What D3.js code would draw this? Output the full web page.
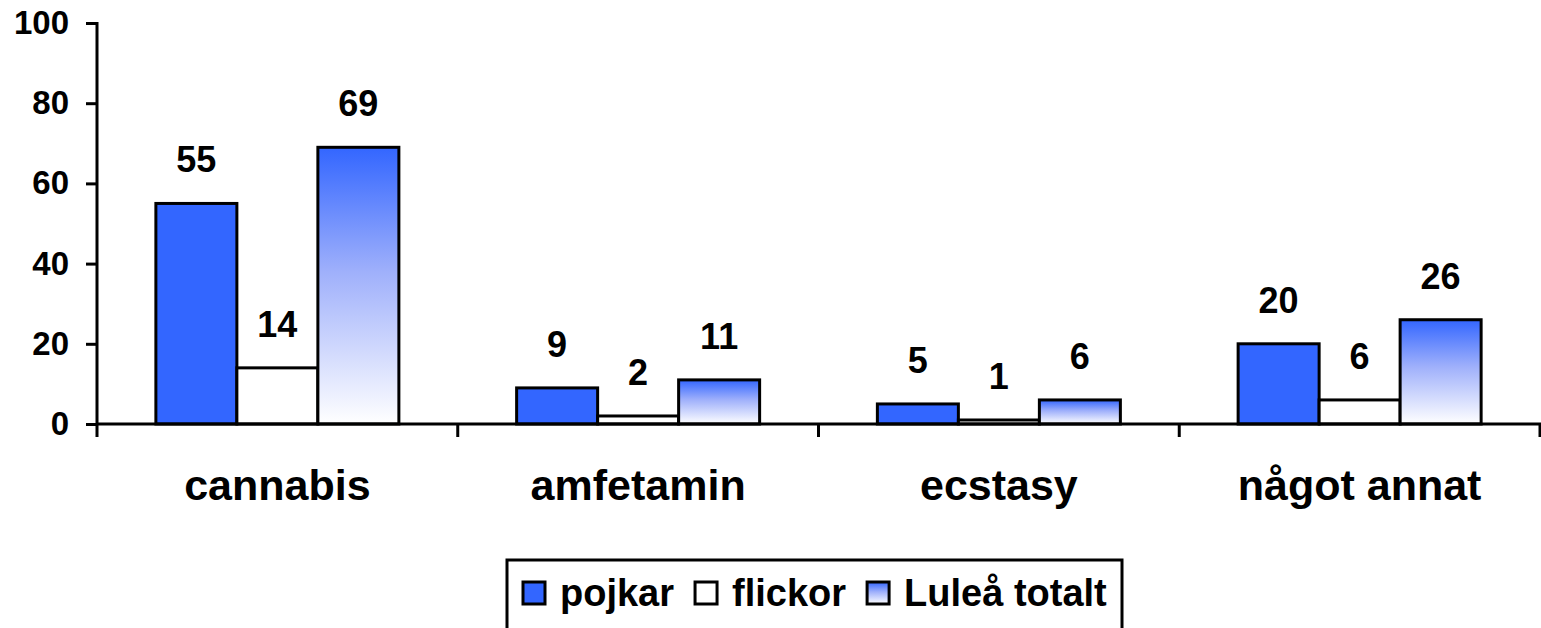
<!DOCTYPE html>
<html>
<head>
<meta charset="utf-8">
<script src="https://cdn.jsdelivr.net/npm/d3@7"></script>
<style>
  html, body { margin: 0; padding: 0; background: #fff; }
  svg { display: block; font-family: "Liberation Sans", Arial, sans-serif; font-weight: bold; }
</style>
</head>
<body>
<svg id="chart" width="1541" height="628"></svg>
<script>
const categories = ["cannabis", "amfetamin", "ecstasy", "något annat"];
const seriesNames = ["pojkar", "flickor", "Luleå totalt"];
const pojkar = [55, 9, 5, 20];
const flickor = [14, 2, 1, 6];
const lulea = [69, 11, 6, 26];
const yTicks = [0, 20, 40, 60, 80, 100];

(function () {
const seriesValues = [pojkar, flickor, lulea];
const data = categories.map((c, i) => ({
  category: c,
  values: seriesNames.map((s, j) => ({ series: s, value: seriesValues[j][i] }))
}));

const svg = d3.select("#chart");
const mLeft = 97, mRight = 1540, mTop = 23, mBottom = 424;

const defs = svg.append("defs");
const grad = defs.append("linearGradient").attr("id", "gradTotal")
  .attr("x1", 0).attr("y1", 0).attr("x2", 0).attr("y2", 1);
grad.append("stop").attr("offset", "0%").attr("stop-color", "#3366FF");
grad.append("stop").attr("offset", "45%").attr("stop-color", "#9fb0fb");
grad.append("stop").attr("offset", "100%").attr("stop-color", "#ffffff");

const fills = { "pojkar": "#3366FF", "flickor": "#ffffff", "Luleå totalt": "url(#gradTotal)" };

const pad = 1 - 243 / ((mRight - mLeft) / categories.length);
const x0 = d3.scaleBand().domain(categories).range([mLeft, mRight])
  .paddingInner(pad).paddingOuter(pad / 2);
const x1 = d3.scaleBand().domain(seriesNames).range([0, x0.bandwidth()]).padding(0);
const y = d3.scaleLinear().domain([0, 100]).range([mBottom, mTop]);

// Y axis
const yAxis = svg.append("g").attr("transform", `translate(${mLeft},0)`)
  .call(d3.axisLeft(y).tickValues(yTicks).tickSize(11).tickPadding(17).tickSizeOuter(0));
yAxis.select(".domain").remove();
yAxis.selectAll(".tick line").attr("stroke", "#000").attr("stroke-width", 3);
yAxis.selectAll(".tick text").attr("font-size", 33).attr("font-weight", "bold")
  .attr("font-family", "'Liberation Sans', Arial, sans-serif").attr("fill", "#000");
svg.append("line").attr("x1", mLeft).attr("x2", mLeft).attr("y1", y(100) - 1).attr("y2", y(0) + 13)
  .attr("stroke", "#000").attr("stroke-width", 3);

// Bars
const groups = svg.selectAll("g.cat").data(data).enter().append("g")
  .attr("class", "cat").attr("transform", d => `translate(${x0(d.category)},0)`);
groups.selectAll("rect").data(d => d.values).enter().append("rect")
  .attr("x", d => x1(d.series))
  .attr("width", x1.bandwidth())
  .attr("y", d => y(d.value))
  .attr("height", d => y(0) - y(d.value))
  .attr("fill", d => fills[d.series])
  .attr("stroke", "#000").attr("stroke-width", 3);
groups.selectAll("text.val").data(d => d.values).enter().append("text")
  .attr("class", "val")
  .attr("x", d => x1(d.series) + x1.bandwidth() / 2)
  .attr("y", d => y(d.value) - 31)
  .attr("text-anchor", "middle").attr("font-size", 36).attr("fill", "#000")
  .text(d => d.value);

// X axis
svg.append("line").attr("x1", mLeft).attr("x2", mRight + 1).attr("y1", y(0)).attr("y2", y(0))
  .attr("stroke", "#000").attr("stroke-width", 3);
const step = x0.step();
const boundaries = d3.range(categories.length + 1).map(i => mLeft + i * step);
svg.selectAll("line.xtick").data(boundaries.slice(1)).enter().append("line")
  .attr("class", "xtick")
  .attr("x1", d => Math.min(d, mRight)).attr("x2", d => Math.min(d, mRight))
  .attr("y1", y(0)).attr("y2", y(0) + 13)
  .attr("stroke", "#000").attr("stroke-width", 3);
svg.selectAll("text.catlabel").data(categories).enter().append("text")
  .attr("class", "catlabel")
  .attr("x", d => x0(d) + x0.bandwidth() / 2)
  .attr("y", 500)
  .attr("text-anchor", "middle").attr("font-size", 43).attr("fill", "#000")
  .text(d => d);

// Legend
const legend = svg.append("g");
legend.append("rect").attr("x", 507).attr("y", 560).attr("width", 615).attr("height", 100)
  .attr("fill", "#fff").attr("stroke", "#000").attr("stroke-width", 3);
let lx = 523;
seriesNames.forEach(s => {
  legend.append("rect").attr("x", lx).attr("y", 582).attr("width", 22).attr("height", 22)
    .attr("fill", fills[s]).attr("stroke", "#000").attr("stroke-width", 3);
  const t = legend.append("text").attr("x", lx + 37).attr("y", 606)
    .attr("font-size", 38).attr("fill", "#000").text(s);
  const w = t.node().getComputedTextLength();
  lx = lx + 37 + w + 21;
});
})();
</script>
</body>
</html>
